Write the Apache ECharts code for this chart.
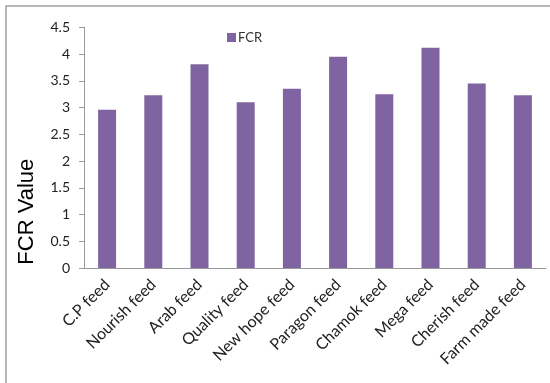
<!DOCTYPE html>
<html>
<head>
<meta charset="utf-8">
<script src="https://cdn.jsdelivr.net/npm/echarts@6/dist/echarts.min.js"></script>
<style>
  html, body { margin: 0; padding: 0; background: #fff; }
  #main { width: 550px; height: 383px; }
</style>
</head>
<body>
<div id="main"></div>
<script>
// 类别
const feeds = ['C.P feed', 'Nourish feed', 'Arab feed', 'Quality feed', 'New hope feed',
  'Paragon feed', 'Chamok feed', 'Mega feed', 'Cherish feed', 'Farm made feed']
// FCR 数值
const fcrValues = [2.96, 3.23, 3.81, 3.10, 3.35, 3.95, 3.25, 4.12, 3.45, 3.23]
// y 轴刻度
const yTicks = ['0', '0.5', '1', '1.5', '2', '2.5', '3', '3.5', '4', '4.5']

const myChart = echarts.init(document.getElementById('main'))
const labelFont = 'Lato, "Open Sans", sans-serif'

const options = {
  animation: false,
  // 外框
  graphic: [{
    type: 'rect',
    shape: { x: 6, y: 6, width: 560, height: 390 },
    style: { fill: 'none', stroke: '#a0a0a0', lineWidth: 1.5 }
  }],
  legend: {
    left: 222,
    top: 26,
    icon: 'rect',
    itemWidth: 9,
    itemHeight: 9,
    textStyle: { fontFamily: labelFont, fontSize: 13, color: '#333', padding: [0, 0, 0, -3] },
    data: ['FCR']
  },
  grid: { left: 84, right: 4, top: 27.3, bottom: 115 },
  xAxis: {
    type: 'category',
    data: feeds,
    axisLine: { lineStyle: { color: '#999' } },
    axisTick: { length: 5, lineStyle: { color: '#999' } },
    axisLabel: {
      interval: 0,
      rotate: 45,
      margin: 14,
      fontFamily: labelFont,
      fontSize: 16,
      color: '#222'
    }
  },
  yAxis: {
    type: 'value',
    min: 0,
    max: 4.5,
    interval: 0.5,
    name: 'FCR Value',
    nameLocation: 'middle',
    nameGap: 46,
    nameTextStyle: {
      fontFamily: '"Liberation Sans", Arial, sans-serif',
      fontSize: 22,
      color: '#000',
      // 名称整体下移
      padding: [0, 128, 0, 0]
    },
    axisLine: { show: true, lineStyle: { color: '#999' } },
    axisTick: { show: true, length: 5, lineStyle: { color: '#999' } },
    splitLine: { show: false },
    axisLabel: {
      margin: 14,
      fontFamily: labelFont,
      fontSize: 14,
      color: '#222',
      formatter: function (v) { return yTicks[Math.round(v / 0.5)] }
    }
  },
  series: [{
    name: 'FCR',
    type: 'bar',
    data: fcrValues,
    barWidth: 18,
    itemStyle: { color: '#8064A2' }
  }]
}

myChart.setOption(options)
</script>
</body>
</html>
